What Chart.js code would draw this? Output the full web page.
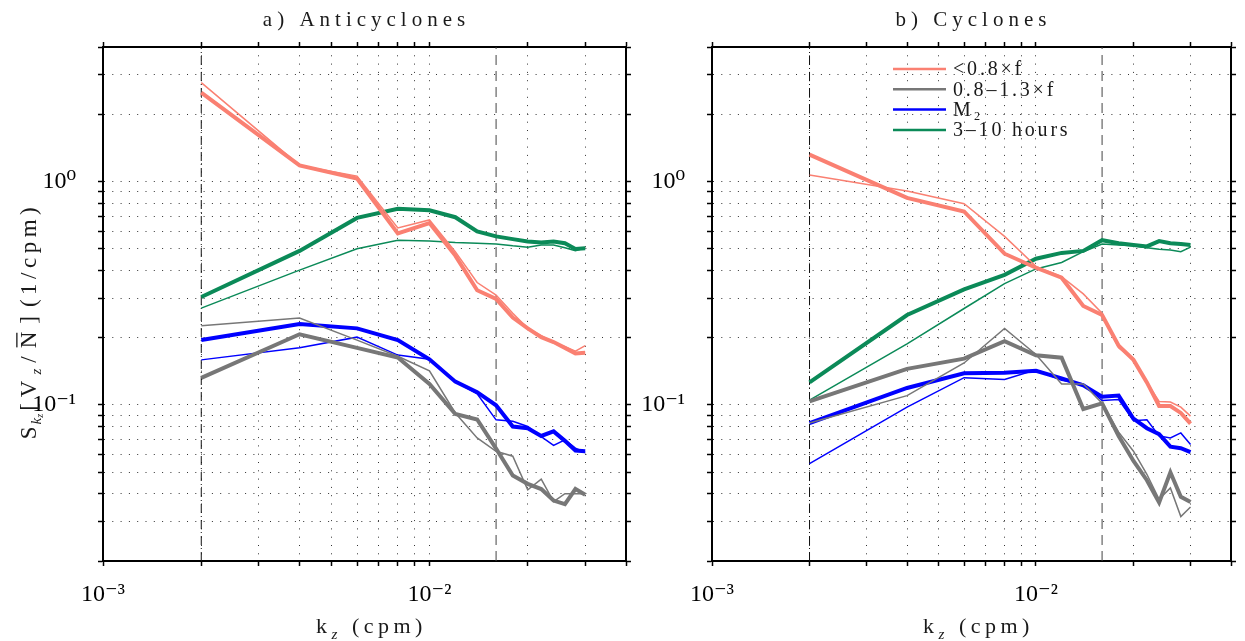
<!DOCTYPE html>
<html lang="en">
<head>
<meta charset="UTF-8">
<title>Vertical wavenumber spectra</title>
<script src="https://cdn.jsdelivr.net/npm/chart.js"></script>
<style>
  body { margin: 0; background: #fff; }
  .panel { position: absolute; top: 0; height: 641px; }
  #panelA { left: 0; width: 640px; }
  #panelB { left: 640px; width: 605px; }
</style>
</head>
<body>
<div class="panel" id="panelA"><canvas id="chartA"></canvas></div>
<div class="panel" id="panelB"><canvas id="chartB"></canvas></div>
<script>
// vertical wavenumber (cpm)
const kz = [0.002, 0.004, 0.006, 0.008, 0.010, 0.012, 0.014, 0.016, 0.018, 0.020, 0.022, 0.024, 0.026, 0.028, 0.030];

// anticyclones: thick and thin estimate for each band
const antiSubF      = [2.50, 1.18, 1.03, 0.586, 0.652, 0.466, 0.326, 0.298, 0.246, 0.220, 0.201, 0.191, 0.180, 0.170, 0.171];
const antiSubFThin  = [2.77, 1.18, 1.057, 0.620, 0.673, 0.485, 0.353, 0.310, 0.257, 0.220, 0.204, 0.190, 0.182, 0.174, 0.184];
const antiNearF     = [0.132, 0.207, 0.180, 0.163, 0.124, 0.091, 0.086, 0.0637, 0.0483, 0.0443, 0.042, 0.0373, 0.0359, 0.042, 0.0396];
const antiNearFThin = [0.226, 0.245, 0.195, 0.165, 0.142, 0.092, 0.0711, 0.062, 0.0589, 0.0417, 0.0465, 0.0369, 0.040, 0.040, 0.040];
const antiM2        = [0.195, 0.230, 0.220, 0.195, 0.160, 0.127, 0.114, 0.0996, 0.080, 0.0786, 0.0726, 0.0761, 0.069, 0.0624, 0.062];
const antiM2Thin    = [0.159, 0.180, 0.201, 0.167, 0.160, 0.127, 0.112, 0.0857, 0.0844, 0.080, 0.072, 0.0658, 0.0697, 0.064, 0.0612];
const antiHF        = [0.304, 0.489, 0.687, 0.755, 0.743, 0.692, 0.598, 0.568, 0.552, 0.539, 0.533, 0.539, 0.529, 0.499, 0.503];
const antiHFThin    = [0.271, 0.401, 0.500, 0.546, 0.542, 0.533, 0.529, 0.525, 0.515, 0.508, 0.520, 0.520, 0.505, 0.490, 0.505];

// cyclones
const cycSubF      = [1.32, 0.844, 0.734, 0.475, 0.411, 0.371, 0.277, 0.2525, 0.184, 0.159, 0.126, 0.0988, 0.0988, 0.092, 0.0824];
const cycSubFThin  = [1.07, 0.906, 0.795, 0.568, 0.417, 0.375, 0.314, 0.257, 0.180, 0.160, 0.126, 0.1036, 0.103, 0.0977, 0.089];
const cycNearF     = [0.1036, 0.145, 0.161, 0.193, 0.1666, 0.1626, 0.0958, 0.1016, 0.0726, 0.0561, 0.046, 0.0366, 0.0499, 0.0388, 0.0367];
const cycNearFThin = [0.083, 0.110, 0.154, 0.220, 0.168, 0.124, 0.124, 0.1016, 0.0755, 0.062, 0.0489, 0.0378, 0.0425, 0.0316, 0.0349];
const cycM2        = [0.0828, 0.119, 0.1384, 0.1394, 0.142, 0.1314, 0.1224, 0.1087, 0.110, 0.0867, 0.0786, 0.074, 0.065, 0.064, 0.0615];
const cycM2Thin    = [0.0546, 0.0977, 0.1324, 0.130, 0.1434, 0.1288, 0.124, 0.1045, 0.1057, 0.085, 0.0857, 0.0726, 0.0711, 0.0749, 0.0665];
const cycHF        = [0.126, 0.2525, 0.329, 0.382, 0.451, 0.479, 0.489, 0.546, 0.529, 0.520, 0.512, 0.541, 0.529, 0.525, 0.520];
const cycHFThin    = [0.105, 0.1876, 0.270, 0.349, 0.406, 0.434, 0.485, 0.525, 0.520, 0.515, 0.505, 0.497, 0.493, 0.485, 0.508];

const bandLabels = ['<0.8\u00d7f', '0.8\u20131.3\u00d7f', 'M\u2082', '3\u201310 hours'];
const bandColors = ['#fa8072', '#777777', '#0000ff', '#0b8a58'];

// axis limits, tick positions and reference wavenumbers
const kzMin = 0.001, kzMax = 0.04;
const specMin = 0.02, specMax = 4;
const kzTicks = [0.001, 0.002, 0.003, 0.004, 0.005, 0.006, 0.007, 0.008, 0.009, 0.01, 0.02, 0.03, 0.04];
const specTicks = [0.02, 0.03, 0.04, 0.05, 0.06, 0.07, 0.08, 0.09, 0.1, 0.2, 0.3, 0.4, 0.5, 0.6, 0.7, 0.8, 0.9, 1, 2, 3, 4];
const kzLow = 0.002;
const kzCut = 0.016;

const serif = "'Liberation Serif', 'DejaVu Serif', serif";
const sup = { '-': '\u207b', '0': '\u2070', '1': '\u00b9', '2': '\u00b2', '3': '\u00b3' };

function decadeLabel(v) {
  const e = Math.log10(v);
  if (Math.abs(e - Math.round(e)) > 1e-6) return '';
  return '10' + String(Math.round(e)).split('').map(c => sup[c]).join('');
}

function series(label, values, color, width) {
  return {
    label, data: kz.map((k, i) => ({ x: k, y: values[i] })),
    borderColor: color, borderWidth: width, pointRadius: 0, tension: 0, fill: false
  };
}

function refLine(k, dash, color) {
  return {
    label: '', data: [{ x: k, y: specMin }, { x: k, y: specMax }],
    borderColor: color, borderWidth: 1, borderDash: dash, pointRadius: 0, fill: false
  };
}

function buildDatasets(sets) {
  const out = [];
  sets.forEach((pair, i) => {
    out.push(series(bandLabels[i], pair[0], bandColors[i], 4));
    out.push(series(bandLabels[i], pair[1], bandColors[i], 1.5));
  });
  out.push(refLine(kzLow, [9, 3, 1, 3], '#111'));
  out.push(refLine(kzCut, [10, 6], '#444'));
  return out;
}

function logAxis(min, max, values) {
  return {
    type: 'logarithmic', min, max,
    afterBuildTicks: s => { s.ticks = values.map(v => ({ value: v })); }
  };
}

function axes(yWidth, y2Width) {
  const tickFont = { family: serif, size: 24 };
  const frame = { color: '#000', width: 2 };
  return {
    x: {
      ...logAxis(kzMin, kzMax, kzTicks), position: 'bottom',
      grid: { color: '#333', lineWidth: 1, tickLength: 5, tickColor: '#000', tickWidth: 1.5 },
      border: { ...frame, dash: [1, 7.3] },
      ticks: { autoSkip: false, maxRotation: 0, padding: 14, color: '#000', font: tickFont, callback: v => decadeLabel(v) },
      afterFit: s => { s.height = 80; }
    },
    x2: {
      ...logAxis(kzMin, kzMax, kzTicks), position: 'top',
      grid: { drawOnChartArea: false, tickLength: 5, tickColor: '#000', tickWidth: 1.5 },
      border: frame, ticks: { display: false },
      afterFit: s => { s.height = 7; }
    },
    y: {
      ...logAxis(specMin, specMax, specTicks), position: 'left',
      grid: { color: '#333', lineWidth: 1, tickLength: 5, tickColor: '#000', tickWidth: 1.5 },
      border: { ...frame, dash: [1, 7.3] },
      ticks: { autoSkip: false, padding: 22, color: '#000', font: tickFont, callback: v => decadeLabel(v) },
      afterFit: s => { s.width = yWidth; }
    },
    y2: {
      ...logAxis(specMin, specMax, specTicks), position: 'right',
      grid: { drawOnChartArea: false, tickLength: 5, tickColor: '#000', tickWidth: 1.5 },
      border: frame, ticks: { display: false },
      afterFit: s => { s.width = y2Width; }
    }
  };
}

// text pieces: t = text, s = size factor, dy = baseline shift, it = italic,
// bar = overline, ls = letter spacing for that piece
function fontFor(p, base) {
  return (p.it ? 'italic ' : '') + Math.round(base * (p.s || 1)) + 'px ' + serif;
}

function drawRich(ctx, parts, x, y, base, spacing) {
  const setup = p => {
    ctx.font = fontFor(p, base);
    ctx.letterSpacing = (p.ls !== undefined ? p.ls : spacing) + 'px';
  };
  let w = 0;
  parts.forEach(p => { setup(p); w += ctx.measureText(p.t).width; });
  let cx = x - w / 2;
  parts.forEach(p => {
    setup(p);
    const pw = ctx.measureText(p.t).width;
    ctx.fillText(p.t, cx, y + (p.dy || 0) * base);
    if (p.bar) ctx.fillRect(cx + 1, y - base * 0.86, pw - spacing - 2, 1.3);
    cx += pw;
  });
}

const xTitle = [{ t: 'k' }, { t: 'z', s: 0.7, dy: 0.25, it: true }, { t: ' (cpm)' }];
const yTitle = [
  { t: 'S', ls: 2 }, { t: 'k', s: 0.65, dy: 0.2, it: true, ls: 0 }, { t: 'z', s: 0.45, dy: 0.3, it: true, ls: 3 },
  { t: '[V', ls: 6 }, { t: 'z', s: 0.65, dy: 0.22, it: true, ls: 6 }, { t: '/' }, { t: 'N', bar: true },
  { t: ']', ls: 9 }, { t: '(1/cpm)', ls: 4.5 }
];

const panelText = {
  id: 'panelText',
  afterDraw(chart, args, opts) {
    const { ctx, chartArea } = chart;
    const mid = (chartArea.left + chartArea.right) / 2;
    ctx.save();
    ctx.fillStyle = '#1a1a1a';
    ctx.textBaseline = 'alphabetic';
    drawRich(ctx, [{ t: opts.title }], mid + 2, 26, 21, 5);
    drawRich(ctx, xTitle, mid + 7, 633, 22, 4.5);
    if (opts.yTitle) {
      ctx.save();
      ctx.translate(36, 321);
      ctx.rotate(-Math.PI / 2);
      drawRich(ctx, yTitle, 0, 0, 23, 8);
      ctx.restore();
    }
    if (opts.legend) {
      const x0 = chartArea.left + 181, x1 = chartArea.left + 234;
      ctx.letterSpacing = '2.8px';
      ctx.font = '20px ' + serif;
      ctx.textAlign = 'left';
      ctx.textBaseline = 'middle';
      bandLabels.forEach((lab, i) => {
        const y = chartArea.top + 22 + i * 20.3;
        ctx.strokeStyle = bandColors[i];
        ctx.lineWidth = 2.5;
        ctx.beginPath();
        ctx.moveTo(x0, y);
        ctx.lineTo(x1, y);
        ctx.stroke();
        ctx.fillText(lab, x1 + 7, y + 1);
      });
    }
    ctx.restore();
  }
};

function makeChart(id, sets, yWidth, y2Width, text) {
  return new Chart(document.getElementById(id), {
    type: 'line',
    data: { datasets: buildDatasets(sets) },
    options: {
      responsive: true,
      maintainAspectRatio: false,
      animation: false,
      layout: { padding: { top: 40 } },
      scales: axes(yWidth, y2Width),
      plugins: {
        legend: { display: false },
        tooltip: { enabled: false },
        panelText: text
      }
    },
    plugins: [panelText]
  });
}

makeChart('chartA', [
  [antiSubF, antiSubFThin], [antiNearF, antiNearFThin], [antiM2, antiM2Thin], [antiHF, antiHFThin]
], 103, 8, { title: 'a) Anticyclones', yTitle: true, legend: false });

makeChart('chartB', [
  [cycSubF, cycSubFThin], [cycNearF, cycNearFThin], [cycM2, cycM2Thin], [cycHF, cycHFThin]
], 72, 2, { title: 'b) Cyclones', yTitle: false, legend: true });
</script>
</body>
</html>
